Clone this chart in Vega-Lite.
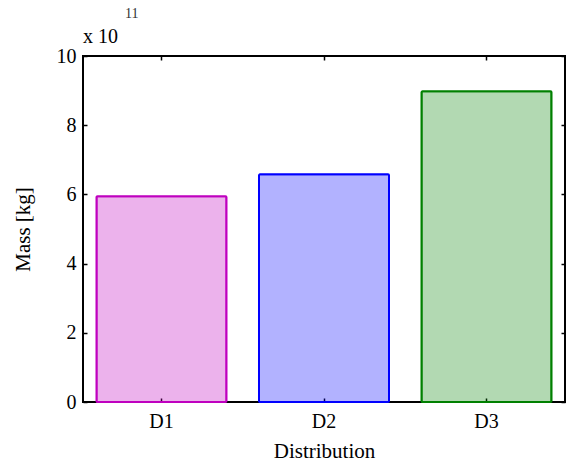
{
  "$schema": "https://vega.github.io/schema/vega-lite/v6.json",
  "width": 482,
  "height": 346,
  "autosize": {"type": "none"},
  "padding": {"left": 83, "top": 56, "right": 5, "bottom": 59},
  "background": "white",
  "title": {
    "text": "\u200b\u00a0\u00a0\u00a0\u00a0\u00a0\u00a0\u00a0\u00a0\u00a0\u00a0\u00a0\u00a011",
    "subtitle": "x 10",
    "anchor": "start",
    "font": "Liberation Serif",
    "fontSize": 14,
    "fontWeight": "normal",
    "subtitleFont": "Liberation Serif",
    "subtitleFontSize": 20,
    "subtitleColor": "black",
    "subtitlePadding": 6,
    "color": "#333333",
    "offset": -1,
    "frame": "group"
  },
  "config": {
    "view": {"stroke": "black", "strokeWidth": 2},
    "axis": {
      "labelFont": "Liberation Serif",
      "titleFont": "Liberation Serif",
      "labelFontSize": 20,
      "titleFontSize": 21,
      "titleFontWeight": "normal",
      "labelColor": "black",
      "titleColor": "black",
      "domainColor": "black",
      "domainWidth": 2,
      "tickColor": "black",
      "tickWidth": 1.5,
      "grid": false
    }
  },
  "data": {
    "values": [
      {"Distribution": "D1", "Mass": 5.95},
      {"Distribution": "D2", "Mass": 6.58},
      {"Distribution": "D3", "Mass": 8.98}
    ]
  },
  "layer": [
    {
      "mark": {"type": "bar", "strokeWidth": 2, "fillOpacity": 0.3, "strokeJoin": "round", "cornerRadius": 1},
      "encoding": {
        "x": {
          "field": "Distribution",
          "type": "nominal",
          "scale": {"paddingInner": 0.2, "paddingOuter": 0.083},
          "axis": {"labelAngle": 0, "tickSize": -4, "labelPadding": 13, "titlePadding": 9, "domain": false}
        },
        "y": {
          "field": "Mass",
          "type": "quantitative",
          "scale": {"domain": [0, 10], "nice": false},
          "axis": {"values": [0, 2, 4, 6, 8, 10], "tickSize": -4, "labelPadding": 11, "title": "Mass [kg]", "titlePadding": 23, "domain": false}
        },
        "color": {
          "field": "Distribution",
          "type": "nominal",
          "scale": {"domain": ["D1", "D2", "D3"], "range": ["#bf00bf", "#0000ff", "#008000"]},
          "legend": null
        },
        "stroke": {
          "field": "Distribution",
          "type": "nominal",
          "scale": {"domain": ["D1", "D2", "D3"], "range": ["#bf00bf", "#0000ff", "#008000"]},
          "legend": null
        }
      }
    },
    {
      "mark": {"type": "tick", "opacity": 0},
      "encoding": {
        "x": {
          "field": "Distribution",
          "type": "nominal",
          "axis": {"orient": "top", "labels": false, "title": null, "tickSize": -4, "domain": false}
        },
        "y": {
          "field": "Mass",
          "type": "quantitative",
          "axis": {"orient": "right", "values": [0, 2, 4, 6, 8, 10], "labels": false, "title": null, "tickSize": -4, "domain": false}
        }
      }
    }
  ],
  "resolve": {"axis": {"x": "independent", "y": "independent"}}
}
